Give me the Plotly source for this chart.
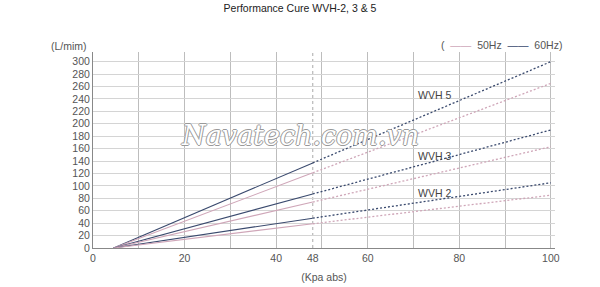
import plotly.graph_objects as go

# ---- data ----
x_points = [4.5, 48, 100]
wvh5_60 = [0, 137, 300]
wvh5_50 = [0, 121, 265]
wvh3_60 = [0, 87, 190]
wvh3_50 = [0, 74, 163]
wvh2_60 = [0, 48, 105]
wvh2_50 = [0, 39, 85]
x_tickvals = [0, 20, 40, 48, 60, 80, 100]
y_tickvals = list(range(0, 301, 20))
labels = ["WVH 5", "WVH 3", "WVH 2"]
label_x = [74.5, 74.5, 74.5]
label_y = [246, 148, 89]

C60 = "#3a4a6e"
C50 = "#cfa6b8"
FONT = "Liberation Sans, Arial"

fig = go.Figure()

series = [(wvh5_60, C60), (wvh5_50, C50), (wvh3_60, C60),
          (wvh3_50, C50), (wvh2_60, C60), (wvh2_50, C50)]
for ys, col in series:
    fig.add_trace(go.Scatter(x=x_points[:2], y=ys[:2], mode="lines",
                             line=dict(color=col, width=1.1), showlegend=False,
                             hoverinfo="skip"))
    fig.add_trace(go.Scatter(x=x_points[1:], y=ys[1:], mode="lines",
                             line=dict(color=col, width=1.3, dash="2px,2px"),
                             showlegend=False, hoverinfo="skip"))

for t, lx, ly in zip(labels, label_x, label_y):
    fig.add_annotation(x=lx, y=ly, text=t, showarrow=False, xref="x", yref="y",
                       font=dict(family=FONT, size=10.5, color="#444"))

fig.add_vline(x=48, line=dict(color="#aaaaaa", width=1, dash="dot"), layer="below")

fig.update_xaxes(range=[0, 100.9], tickvals=x_tickvals, ticktext=[str(v) for v in x_tickvals],
                 showgrid=False, zeroline=False, showline=True, linecolor="#888", linewidth=1,
                 ticks="", automargin=False, tickfont=dict(family=FONT, size=10.5, color="#555"),
                 minor=dict(tick0=0, dtick=10, showgrid=True, gridcolor="#bdbdbd", gridwidth=1),
                 title=dict(text="(Kpa abs)", font=dict(family=FONT, size=10.5, color="#555"),
                            standoff=11))
fig.update_yaxes(range=[0, 315.5], tickvals=y_tickvals, showgrid=True, gridcolor="#d4d4d4",
                 gridwidth=1, zeroline=False, showline=True, linecolor="#888", linewidth=1,
                 ticks="", automargin=False, tickfont=dict(family=FONT, size=10.5, color="#555"))

fig.update_layout(
    width=600, height=287,
    margin=dict(l=93, r=45, t=52, b=39),
    paper_bgcolor="white", plot_bgcolor="white",
    title=dict(text="Performance Cure WVH-2, 3 & 5", x=0.5, xanchor="center", y=0.985, yanchor="top",
               font=dict(family=FONT, size=10.5, color="#222")),
)

pw, ph = 600 - 93 - 45, 287 - 52 - 39
def px(xp):
    return (xp - 93) / pw
def py(yp):
    return (287 - 39 - yp) / ph

fig.add_annotation(text="(L/mim)", x=px(69), y=py(46), xref="paper", yref="paper", showarrow=False,
                   xanchor="center", yanchor="middle",
                   font=dict(family=FONT, size=10.5, color="#555"))
fig.add_annotation(text="(  <span style='color:%s'>——</span>  50Hz  <span style='color:%s'>——</span>  60Hz)" % (C50, C60),
                   x=px(501), y=py(45), xref="paper", yref="paper", showarrow=False,
                   xanchor="center", yanchor="middle",
                   font=dict(family=FONT, size=10.5, color="#555"))
fig.add_annotation(text="<i>Navatech.com.vn</i>", x=px(300), y=py(135), xref="paper", yref="paper",
                   showarrow=False, xanchor="center", yanchor="middle",
                   font=dict(family="DejaVu Serif", size=27, color="white",
                             shadow="-1px 0 #999, 1px 0 #999, 0 -1px #999, 0 1px #999"))

fig.write_html("out.html")
